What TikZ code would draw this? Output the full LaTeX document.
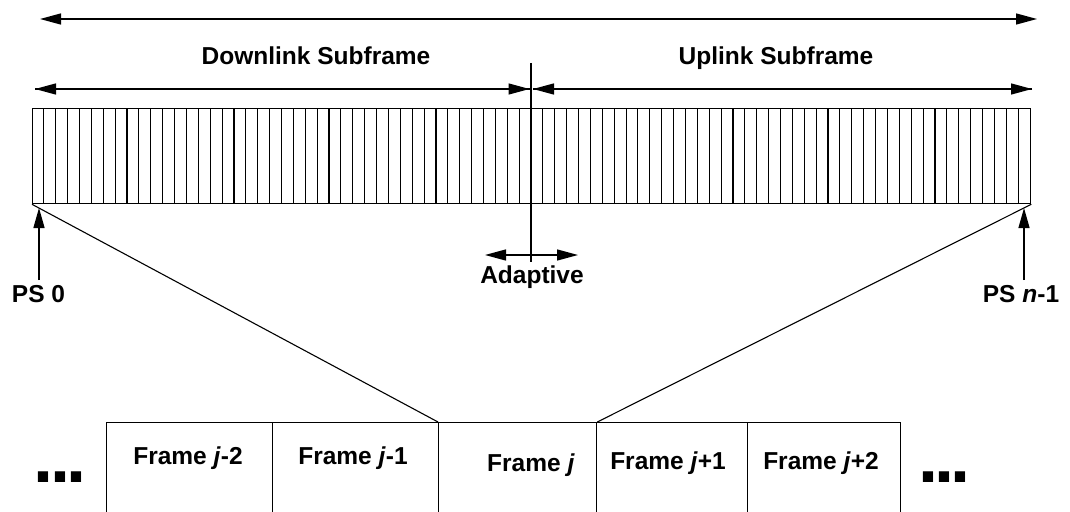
\documentclass[tikz,border=0pt]{standalone}
\usepackage{fontspec}
\setmainfont{Liberation Sans}
\usetikzlibrary{arrows.meta}
\begin{document}
\begin{tikzpicture}[x=1pt,y=-1pt,line width=1.3pt,
  onetip/.style={-{Triangle[length=21pt,width=11pt]}},
  twotips/.style={{Triangle[length=21pt,width=11pt]}-{Triangle[length=21pt,width=11pt]}},
  lbl/.style={font=\fontsize{24.5}{28}\selectfont\bfseries,inner sep=0pt,anchor=base},
  dots/.style={font=\fontsize{72}{72}\selectfont\bfseries,inner sep=0pt,anchor=center},
  framebox/.style={draw,minimum height=130pt,inner sep=0pt,anchor=north west},
  slot/.style={line width=1.1pt}]
\useasboundingbox (0,0) rectangle (1070,511);

% whole frame span
\coordinate (topL) at (40,19);
\coordinate (topR) at (1037,19);
\draw[twotips] (topL) -- (topR);

% subframe bar with its physical slots
\node[draw,minimum width=998pt,minimum height=95pt,inner sep=0pt,anchor=north west] (bar) at (32,108) {};
\foreach \i in {1,...,83}
  \draw[slot] (32+\i*11.881,108) -- (32+\i*11.881,203);

% adaptive boundary between downlink and uplink
\coordinate (splitTop) at (531,63);
\coordinate (splitBot) at (531,262);
\draw (splitTop) -- (splitBot);
\draw[line width=2.4pt] (531,108) -- (531,203);

% subframe spans
\coordinate (dlL) at (35,89);
\coordinate (dlR) at (529.5,89);
\coordinate (ulL) at (533,89);
\coordinate (ulR) at (1032,89);
\draw[onetip] (dlR) -- (dlL);
\draw[onetip] (dlL) -- (dlR);
\draw[onetip] (ulL) -- (ulR);
\draw[onetip] (ulR) -- (ulL);
\node[lbl] (dltxt) at (316,64) {Downlink Subframe};
\node[lbl] (ultxt) at (776,64) {Uplink Subframe};

% adaptive arrow
\coordinate (adL) at (485,255);
\coordinate (adR) at (578,255);
\draw[twotips] (adL) -- (adR);
\node[lbl] (adtxt) at (532,283) {Adaptive};

% first and last physical slot
\node[lbl] (ps0) at (38.5,302) {PS 0};
\node[lbl] (psn) at (1021,302) {PS \textit{n}-1};
\coordinate (ps0tip) at (39,208);
\coordinate (ps0foot) at (39,280);
\coordinate (psntip) at (1024,208);
\coordinate (psnfoot) at (1024,280);
\draw[-{Triangle[length=20pt,width=11pt]}] (ps0foot) -- (ps0tip);
\draw[-{Triangle[length=20pt,width=11pt]}] (psnfoot) -- (psntip);

% sequence of frames
\node[framebox,minimum width=166pt] (fm2) at (106,422) {};
\node[framebox,minimum width=166pt] (fm1) at (272,422) {};
\node[framebox,minimum width=158pt] (f0) at (438,422) {};
\node[framebox,minimum width=151pt] (fp1) at (596,422) {};
\node[framebox,minimum width=153pt] (fp2) at (747,422) {};
\node[lbl] (tm2) at (188,464) {Frame \textit{j}-2};
\node[lbl] (tm1) at (353,464) {Frame \textit{j}-1};
\node[lbl] (t0) at (531,471) {Frame \textit{j}};
\node[lbl] (tp1) at (668,469) {Frame \textit{j}+1};
\node[lbl] (tp2) at (821,469) {Frame \textit{j}+2};
\node[dots] (dl) at (60,477) {.\kern-4pt.\kern-4pt.};
\node[dots] (dr) at (944,477) {.\kern-4pt.\kern-4pt.};

% zoom lines from the bar onto frame j
\draw[line width=1.1pt] (bar.south west) -- (f0.north west);
\draw[line width=1.1pt] (bar.south east) -- (f0.north east);
\end{tikzpicture}
\end{document}
